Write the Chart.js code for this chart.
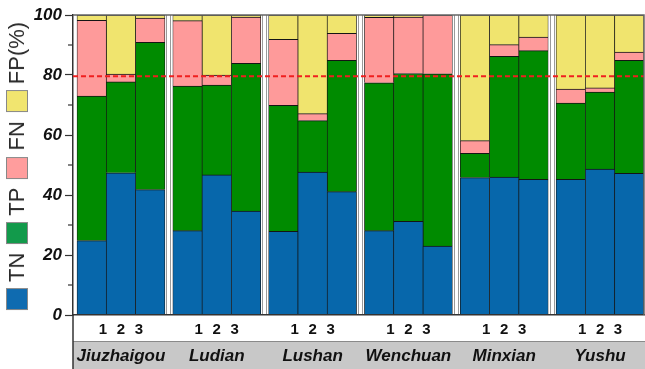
<!DOCTYPE html>
<html>
<head>
<meta charset="utf-8">
<title>Confusion components by earthquake</title>
<script src="https://cdn.jsdelivr.net/npm/chart.js@4.4.0/dist/chart.umd.min.js"></script>
<style>
  html, body { margin: 0; padding: 0; background: #fff; }
  #wrap { position: relative; width: 645px; height: 369px; overflow: hidden; }
  #chart { position: absolute; left: 0; top: 0; }
  #legend {
    position: absolute; left: 17px; top: 166px;
    transform: translate(-50%, -50%) rotate(-90deg);
    display: flex; align-items: center; white-space: nowrap;
    font-family: "Liberation Sans", Arial, sans-serif; font-size: 22px; color: #2a2a2a;
  }
  #legend .sw { width: 22px; height: 22px; box-sizing: border-box; border: 1px solid #888; margin-right: 6px; }
  #legend .lb { margin-right: 9px; line-height: 22px; }
  #legend .lb:last-child { margin-right: 0; }
</style>
</head>
<body>
<div id="wrap">
  <canvas id="chart" width="645" height="369"></canvas>
  <div id="legend"></div>
</div>
<script>
// Earthquake events, one group of three runs each
const GROUPS = ['Jiuzhaigou', 'Ludian', 'Lushan', 'Wenchuan', 'Minxian', 'Yushu'];
const RUNS = ['1', '2', '3'];

// Percentages per bar (group by group, runs 1..3)
const TN = [24.8, 47.4, 41.8,  28.1, 46.7, 34.6,  27.9, 47.6, 41.1,  28.1, 31.2, 23.0,  45.8, 46.0, 45.2,  45.2, 48.6, 47.2];
const TP = [48.2, 30.3, 49.1,  48.2, 29.9, 49.3,  42.0, 17.2, 43.8,  49.3, 49.3, 57.4,   8.1, 40.2, 42.9,  25.4, 25.7, 37.7];
const FN = [25.2,  2.6,  8.1,  21.8,  3.4, 15.4,  22.0,  2.3,  9.0,  21.8, 18.8, 19.6,   4.2,  3.9,  4.5,   4.7,  1.4,  2.7];
const FP = [ 1.8, 19.7,  1.0,   1.9, 20.0,  0.7,   8.1, 32.9,  6.1,   0.8,  0.7,  0.0,  41.9,  9.9,  7.4,  24.7, 24.3, 12.4];

// Reference threshold (%)
const REF_LINE = 79.6;

const SERIES = [
  { label: 'TN', values: TN, color: '#0767ab', swatch: '#0f6bb0' },
  { label: 'TP', values: TP, color: '#008b00', swatch: '#129a4b' },
  { label: 'FN', values: FN, color: '#fe9a9a', swatch: '#ff9d9d' },
  { label: 'FP(%)', values: FP, color: '#f0e46e', swatch: '#f1e56f' }
];

// Horizontal layout in bar-width units
const GROUP_PITCH = 3.27;      // distance between group starts
const EDGE = 0.137;            // gap between y axis and first bar
const NUM_SPREAD = 0.614;      // spacing of run numbers under a group
const X_MIN = -EDGE;
const X_MAX = (GROUPS.length - 1) * GROUP_PITCH + RUNS.length;

const barX = k => Math.floor(k / RUNS.length) * GROUP_PITCH + (k % RUNS.length) + 0.5;
const groupCenter = g => g * GROUP_PITCH + RUNS.length / 2;

const FONT = "'Liberation Sans', Arial, sans-serif";

const datasets = SERIES.map(s => ({
  type: 'bar',
  label: s.label,
  data: s.values.map((v, k) => ({ x: barX(k), y: v })),
  backgroundColor: s.color,
  borderColor: '#141414',
  borderWidth: { top: 1, bottom: 0, left: 0.7, right: 0.7 },
  borderSkipped: false,
  barPercentage: 1,
  categoryPercentage: 1,
  stack: 'bars'
}));

datasets.push({
  type: 'line',
  label: 'threshold',
  data: [{ x: X_MIN, y: REF_LINE }, { x: X_MAX, y: REF_LINE }],
  borderColor: '#f01f1f',
  borderWidth: 2,
  borderDash: [5, 3],
  pointRadius: 0,
  fill: false,
  stack: 'ref',
  order: -1
});

// Group separators, frame, minor ticks and the shaded name band
const decor = {
  id: 'decor',
  beforeDraw(chart) {
    const { ctx, chartArea } = chart;
    const band = chart.scales.xName;
    ctx.save();
    ctx.fillStyle = '#c8c8c8';
    ctx.fillRect(chartArea.left, band.top, chart.width - chartArea.left, band.bottom - band.top);
    ctx.strokeStyle = '#8a8a8a';
    ctx.lineWidth = 1;
    ctx.beginPath();
    ctx.moveTo(chartArea.left, band.top + 0.5);
    ctx.lineTo(chart.width, band.top + 0.5);
    ctx.stroke();
    ctx.restore();
  },
  beforeDatasetsDraw(chart) {
    const { ctx, chartArea } = chart;
    const x = chart.scales.x;
    ctx.save();
    ctx.strokeStyle = '#9a9a9a';
    ctx.lineWidth = 1;
    for (let g = 0; g < GROUPS.length - 1; g++) {
      const l = x.getPixelForValue(g * GROUP_PITCH + RUNS.length);
      const r = x.getPixelForValue((g + 1) * GROUP_PITCH);
      ctx.beginPath();
      ctx.moveTo(Math.round(l + 1.5) + 0.5, chartArea.top);
      ctx.lineTo(Math.round(l + 1.5) + 0.5, chartArea.bottom);
      ctx.moveTo(Math.round(r - 1.5) - 0.5, chartArea.top);
      ctx.lineTo(Math.round(r - 1.5) - 0.5, chartArea.bottom);
      ctx.stroke();
    }
    ctx.restore();
  },
  afterDraw(chart) {
    const { ctx, chartArea } = chart;
    const y = chart.scales.y;
    ctx.save();
    // frame top and right
    ctx.strokeStyle = '#666';
    ctx.lineWidth = 1.5;
    ctx.beginPath();
    ctx.moveTo(chartArea.left, chartArea.top);
    ctx.lineTo(chartArea.right, chartArea.top);
    ctx.lineTo(chartArea.right, chartArea.bottom);
    ctx.stroke();
    // y axis line continues through the label rows
    ctx.strokeStyle = '#333';
    ctx.beginPath();
    ctx.moveTo(chartArea.left, chartArea.bottom);
    ctx.lineTo(chartArea.left, chart.height);
    ctx.stroke();
    // minor ticks halfway between labelled ticks
    ctx.lineWidth = 1.2;
    const t = y.ticks;
    for (let i = 0; i < t.length - 1; i++) {
      const py = y.getPixelForValue((t[i].value + t[i + 1].value) / 2);
      ctx.beginPath();
      ctx.moveTo(chartArea.left - 5, py);
      ctx.lineTo(chartArea.left, py);
      ctx.stroke();
    }
    ctx.restore();
  }
};

const chart = new Chart(document.getElementById('chart'), {
  data: { datasets },
  plugins: [decor],
  options: {
    responsive: false,
    animation: false,
    events: [],
    layout: { padding: { left: 0, top: 15, right: 1, bottom: 0 } },
    plugins: { legend: { display: false }, tooltip: { enabled: false } },
    scales: {
      x: {
        type: 'linear',
        position: 'bottom',
        stacked: true,
        offset: false,
        min: X_MIN,
        max: X_MAX,
        weight: 0,
        afterBuildTicks: s => { s.ticks = TN.map((_, k) => ({ value: barX(k) })); },
        afterFit: s => { s.height = 0; },
        ticks: { display: false },
        grid: { display: false, drawTicks: false, offset: false },
        border: { display: true, color: '#333', width: 1.5, z: 1 }
      },
      xRun: {
        type: 'linear',
        position: 'bottom',
        offset: false,
        min: X_MIN,
        max: X_MAX,
        weight: 1,
        afterBuildTicks: s => {
          const ticks = [];
          GROUPS.forEach((_, g) => RUNS.forEach((_, i) => {
            ticks.push({ value: groupCenter(g) + (i - (RUNS.length - 1) / 2) * NUM_SPREAD });
          }));
          s.ticks = ticks;
        },
        afterFit: s => { s.height = 26; },
        grid: { display: false, drawTicks: false },
        border: { display: false },
        ticks: {
          autoSkip: false, maxRotation: 0, padding: 6, color: '#111',
          font: { family: FONT, size: 15, weight: 'bold' },
          callback: (v, i) => RUNS[i % RUNS.length]
        }
      },
      xName: {
        type: 'linear',
        position: 'bottom',
        offset: false,
        min: X_MIN,
        max: X_MAX,
        weight: 2,
        afterBuildTicks: s => { s.ticks = GROUPS.map((_, g) => ({ value: groupCenter(g) })); },
        afterFit: s => { s.height = 28; },
        grid: { display: false, drawTicks: false },
        border: { display: false },
        ticks: {
          autoSkip: false, maxRotation: 0, padding: 5, color: '#111',
          font: { family: FONT, size: 17, weight: 'bold', style: 'italic' },
          callback: (v, i) => GROUPS[i]
        }
      },
      y: {
        type: 'linear',
        stacked: true,
        min: 0,
        max: 100,
        afterFit: s => { s.width = 73; },
        ticks: {
          stepSize: 20, padding: 3, color: '#111',
          font: { family: FONT, size: 17, weight: 'bold', style: 'italic' }
        },
        grid: { drawOnChartArea: false, drawTicks: true, tickLength: 8, tickColor: '#333', tickWidth: 1.2 },
        border: { display: true, color: '#333', width: 1.5 }
      }
    }
  }
});

// Rotated legend along the left edge, built from the bar series
const legendEl = document.getElementById('legend');
SERIES.forEach(s => {
  const sw = document.createElement('span');
  sw.className = 'sw';
  sw.style.background = s.swatch;
  const lb = document.createElement('span');
  lb.className = 'lb';
  lb.textContent = s.label;
  legendEl.appendChild(sw);
  legendEl.appendChild(lb);
});
</script>
</body>
</html>
